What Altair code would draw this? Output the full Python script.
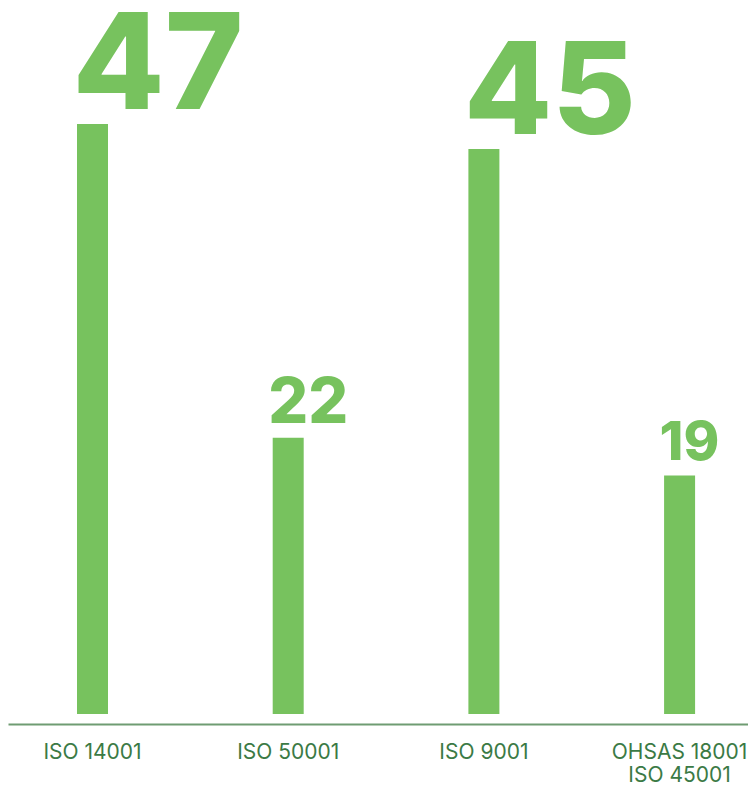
import altair as alt
import pandas as pd

categories = ["ISO 14001", "ISO 50001", "ISO 9001", "OHSAS 18001|ISO 45001"]
values = [47, 22, 45, 19]

df = pd.DataFrame({"cat": categories, "value": values})

x = alt.X("cat:N", sort=categories, title=None,
          scale=alt.Scale(paddingInner=0.8416, paddingOuter=0.3115, align=0.566),
          axis=alt.Axis(labelAngle=0, ticks=False, grid=False, offset=10,
                        domainColor="#6f9c72", domainWidth=2,
                        labelColor="#3b7a45", labelFont="Inter", labelFontSize=21,
                        labelPadding=17, labelLineHeight=23,
                        labelExpr="split(datum.label, '|')"))
y = alt.Y("value:Q", scale=alt.Scale(domain=[0, 56.24], nice=False), axis=None)

bars = alt.Chart(df).mark_bar(color="#77c25e").encode(x=x, y=y)

labels = alt.Chart(df).transform_calculate(fs="datum.value * 2.85").mark_text(
    align="left", baseline="alphabetic", dx=-20, dy=-15,
    font="Inter", fontWeight=800, color="#77c25e"
).encode(x=x, y=y, text="value:Q", size=alt.Size("fs:Q", scale=None))

chart = (bars + labels).properties(
    width=740, height=706,
    autosize=alt.AutoSizeParams(type="none"),
    padding={"top": 0, "left": 0, "right": 0, "bottom": 73},
).configure_view(stroke=None)

chart.save("out.html", embed_options={"renderer": "svg", "actions": False})
